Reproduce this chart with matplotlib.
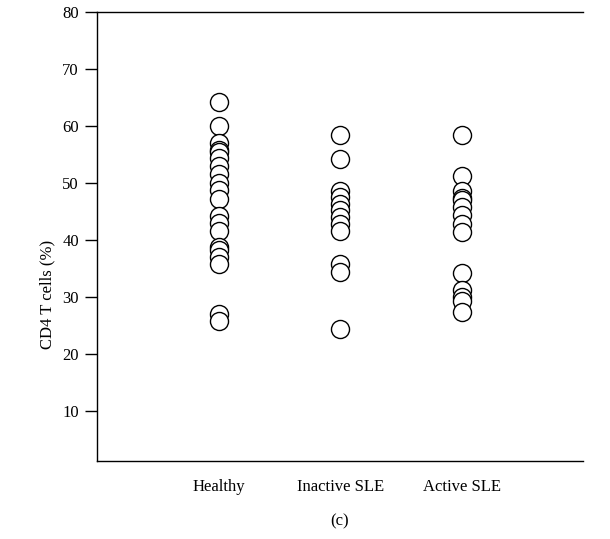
import numpy as np
import matplotlib
matplotlib.use('Agg')
import matplotlib.pyplot as plt

plt.rcParams['font.family'] = ['Liberation Serif', 'DejaVu Serif']

groups = ['Healthy', 'Inactive SLE', 'Active SLE']

healthy = [64.2, 60.0, 57.0, 55.8, 55.5, 54.3, 53.0, 51.5, 50.0, 48.7,
           47.2, 44.2, 43.0, 41.5, 38.8, 38.2, 37.0, 35.8, 27.0, 25.7]
inactive = [58.5, 54.2, 48.6, 47.5, 46.3, 45.2, 44.0, 42.8, 41.5, 35.8,
            34.3, 24.3]
active = [58.5, 51.2, 48.6, 47.4, 47.0, 45.7, 44.3, 42.8, 41.4, 34.2,
          31.3, 30.0, 29.3, 27.3]

yticks = [10, 20, 30, 40, 50, 60, 70, 80]

fig = plt.figure(figsize=(6.1, 5.39), dpi=100)
ax = fig.add_axes([0.159, 0.1447, 0.797, 0.833])

for i, vals in enumerate([healthy, inactive, active]):
    ax.plot(np.full(len(vals), i + 1), vals, 'o', ms=13, mfc='white',
            mec='black', mew=1.0, linestyle='none')

ax.set_xlim(0, 4)
ax.set_ylim(1.2, 80)
ax.set_xticks([1, 2, 3])
ax.set_xticklabels(groups, fontsize=12)
ax.set_yticks(yticks)
ax.tick_params(axis='x', length=0, pad=13)
ax.tick_params(axis='y', direction='out', length=9, width=1, labelsize=12, pad=4)
ax.spines['right'].set_visible(False)
for s in ['left', 'top', 'bottom']:
    ax.spines[s].set_linewidth(1.0)
ax.set_ylabel('CD4 T cells (%)', fontsize=12)
ax.yaxis.set_label_coords(-0.085, 0.37)

fig.text(0.557, 0.033, '(c)', ha='center', va='center', fontsize=12)

plt.savefig('out.png', dpi=100)
